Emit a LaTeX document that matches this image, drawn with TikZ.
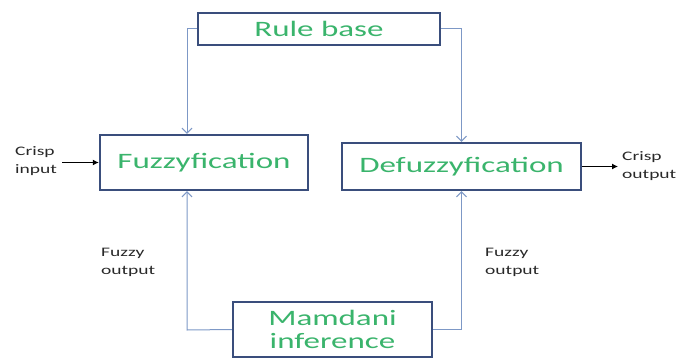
\documentclass[tikz,border=0pt]{standalone}
\usepackage{fontspec}
\setmainfont{Carlito}[FakeStretch=1.5]
\usetikzlibrary{arrows.meta}
\definecolor{boxedge}{RGB}{58,78,124}
\definecolor{boxtext}{RGB}{58,180,108}
\definecolor{linkblue}{RGB}{125,152,198}
\definecolor{labelgrey}{RGB}{40,40,40}
\begin{document}
\begin{tikzpicture}[x=1pt,y=-1pt,
  block/.style={draw=boxedge, line width=2.4pt, fill=white, inner sep=0pt,
    text=boxtext, font=\fontsize{22}{23}\selectfont, align=center},
  link/.style={draw=linkblue, line width=1pt, -{Straight Barb[length=5pt,width=10pt]}},
  io/.style={draw=black, line width=1pt, -{Latex[length=6pt,width=6pt]}},
  lbl/.style={text=labelgrey, font=\fontsize{13}{18}\selectfont, align=left, inner sep=0pt}]
\useasboundingbox (0,0) rectangle (679,361);

% Blocks
\node[block, minimum width=242pt, minimum height=32pt] (rule) at (319,29) {Rule base};
\node[block, minimum width=208pt, minimum height=55pt] (fuzz) at (204,162.5) {Fuzzyfication};
\node[block, minimum width=239pt, minimum height=47pt] (defuzz) at (461.5,166.5) {Defuzzyfication};
\node[block, minimum width=199pt, minimum height=55pt] (mamdani) at (332.5,329.5) {Mamdani\\inference};

% Rule base feeds both stages
\coordinate (ruleleft) at (187,29);
\draw[link] (rule.west) -- (ruleleft) -- (ruleleft |- fuzz.north);
\draw[link] (rule.east) -| (defuzz.north);

% Inference feeds back up
\coordinate (infleft) at (187,330);
\draw[link] (mamdani.west) -- (infleft) -- (infleft |- fuzz.south);
\draw[link] (mamdani.east) -| (defuzz.south);

% Crisp input and output
\coordinate (cin) at (62,162.5);
\coordinate (cout) at (618,166.5);
\draw[io] (cin) -- (fuzz.west);
\draw[io] (defuzz.east) -- (cout);

% Labels
\node[lbl, anchor=west] (inlbl) at (15,161) {Crisp\\input};
\node[lbl, anchor=west] (outlbl) at (622,166) {Crisp\\output};
\node[lbl, anchor=west] (fzleft) at (101,262) {Fuzzy\\output};
\node[lbl, anchor=west] (fzright) at (485,262) {Fuzzy\\output};

\end{tikzpicture}
\end{document}
